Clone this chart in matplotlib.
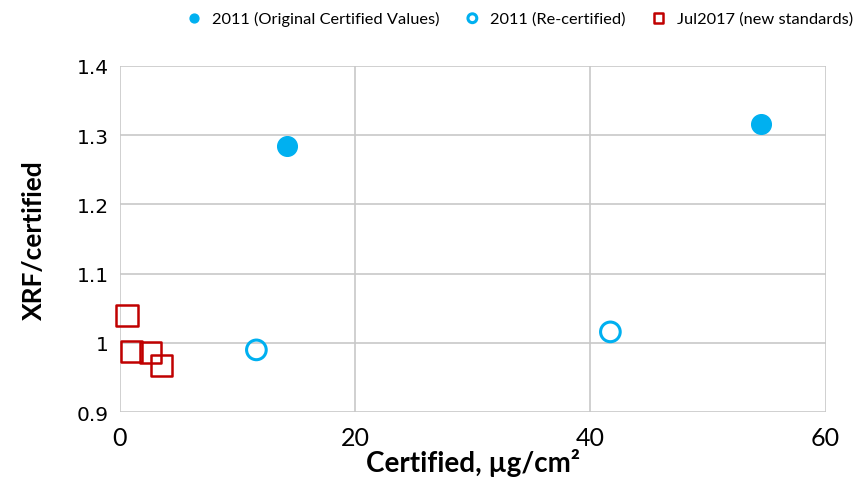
import matplotlib.pyplot as plt

plt.rcParams['font.family'] = ['Lato', 'DejaVu Sans']

# 2011 original certified values
orig_x = [14.2, 54.5]
orig_y = [1.284, 1.316]
# 2011 re-certified
recert_x = [11.6, 41.7]
recert_y = [0.990, 1.016]
# Jul2017 new standards
new_x = [0.6, 1.0, 2.6, 3.5]
new_y = [1.040, 0.988, 0.986, 0.967]

fig = plt.figure(figsize=(8.6, 4.89), dpi=100)
ax = fig.add_axes([0.1395, 0.155, 0.8205, 0.708])

blue = '#00B0F0'
red = '#C00000'
ax.scatter(orig_x, orig_y, s=200, color=blue, zorder=3, clip_on=False,
           label='2011 (Original Certified Values)')
ax.scatter(recert_x, recert_y, s=200, facecolor='none', edgecolor=blue,
           linewidth=2.2, zorder=3, clip_on=False, label='2011 (Re-certified)')
ax.scatter(new_x, new_y, s=230, marker='s', facecolor='none', edgecolor=red,
           linewidth=1.8, zorder=3, clip_on=False, label='Jul2017 (new standards)')

ax.set_xlim(0, 60)
ax.set_ylim(0.9, 1.4)
ax.set_xticks([0, 20, 40, 60])
ax.set_yticks([0.9, 1.0, 1.1, 1.2, 1.3, 1.4])
ax.set_yticklabels(['0.9', '1', '1.1', '1.2', '1.3', '1.4'],
                   fontfamily='DejaVu Sans', fontsize=14.5)
ax.grid(True, color='#c8c8c8', linewidth=1.2)
for s in ax.spines.values():
    s.set_visible(False)
ax.tick_params(length=0)
ax.tick_params(axis='y', pad=8)
ax.tick_params(axis='x', labelsize=18, pad=10)

ax.set_xlabel('Certified, µg/cm²', fontsize=20, fontweight='bold', labelpad=-1)
ax.set_ylabel('XRF/certified', fontsize=19, fontweight='bold', labelpad=22)

fig.legend(loc='upper right', bbox_to_anchor=(1.005, 1.0), ncol=3, frameon=False,
           fontsize=11.8, markerscale=0.45, handletextpad=0.1, columnspacing=1.0,
           borderaxespad=0.3)

fig.savefig('out.png', dpi=100)
